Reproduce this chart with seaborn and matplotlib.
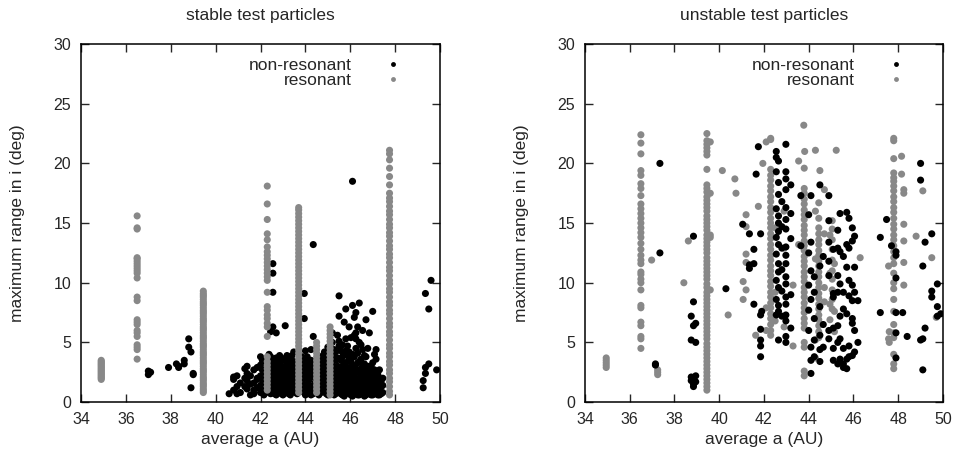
import pandas as pd
import matplotlib
matplotlib.use('Agg')
import matplotlib.pyplot as plt
from matplotlib.lines import Line2D
import seaborn as sns

# ---------------- stable test particles ----------------
# resonant particles: columns at (nearly) fixed average a
stable_res_a = [34.9, 36.5, 39.45, 42.3, 43.7, 44.5, 45.1, 47.75]
stable_res_i = [
    [1.9, 2.0, 2.1, 2.2, 2.3, 2.4, 2.5, 2.6, 2.7, 2.8, 2.9, 3.0, 3.1, 3.2, 3.3, 3.4, 3.5],
    [3.6, 4.4, 4.6, 4.8, 5.5, 5.8, 6.0, 6.5, 6.7, 6.9, 8.5, 8.8, 10.4, 10.8, 11.0, 11.2,
     11.4, 11.6, 11.8, 12.0, 12.1, 14.5, 14.6, 15.6],
    [0.8, 0.95, 1.1, 1.3, 1.45, 1.6, 1.8, 1.95, 2.1, 2.3, 2.5, 2.65, 2.8, 3.0, 3.2, 3.35,
     3.5, 3.7, 3.9, 4.05, 4.2, 4.4, 4.6, 4.75, 4.9, 5.1, 5.3, 5.45, 5.6, 5.8, 6.0, 6.15,
     6.3, 6.5, 6.7, 6.85, 7.0, 7.2, 7.4, 7.55, 7.7, 7.9, 8.1, 8.25, 8.4, 8.6, 8.8, 8.95,
     9.1, 9.3],
    [1.0, 1.3, 1.6, 1.9, 2.2, 2.5, 2.8, 3.1, 3.4, 3.8, 5.5, 6.3, 6.6, 7.0, 7.3, 7.7, 8.0,
     9.2, 10.2, 10.5, 10.8, 11.1, 11.4, 11.7, 12.0, 12.3, 12.6, 13.0, 13.6, 14.1, 15.3,
     16.6, 18.1],
    [0.8, 1.1, 1.4, 1.7, 2.0, 2.3, 2.6, 2.9, 3.2, 3.5, 3.8, 4.1, 4.4, 4.7, 5.0, 5.3, 5.6,
     5.9, 6.2, 6.5, 6.8, 7.1, 7.4, 7.7, 8.0, 8.3, 8.6, 8.9, 9.2, 9.5, 9.8, 10.1, 10.4,
     10.7, 11.0, 11.3, 11.6, 11.9, 12.2, 12.5, 12.8, 13.1, 13.4, 13.7, 14.0, 14.3, 14.6,
     14.9, 15.2, 15.5, 15.8, 16.1, 16.3],
    [0.8, 1.1, 1.4, 1.7, 2.0, 2.3, 2.6, 2.9, 3.2, 3.5, 3.8, 4.1, 4.4, 4.7, 5.0],
    [0.6, 0.9, 1.2, 1.5, 1.8, 2.1, 2.4, 2.7, 3.0, 3.3, 3.6, 3.9, 4.2, 4.5, 4.8, 5.1, 5.4,
     5.7, 6.0, 6.3],
    [0.6, 0.9, 1.3, 1.7, 2.0, 2.4, 2.7, 3.1, 3.4, 3.8, 4.1, 4.5, 4.8, 5.2, 5.6, 5.9, 6.3,
     6.6, 7.0, 7.4, 7.7, 8.1, 8.4, 8.8, 9.2, 9.5, 9.9, 10.2, 10.6, 11.0, 11.3, 11.7, 12.1,
     12.4, 12.8, 13.1, 13.5, 13.9, 14.2, 14.6, 14.9, 15.3, 15.7, 16.0, 16.4, 16.8, 17.1,
     17.5, 18.2, 18.9, 19.6, 20.3, 20.8, 21.1],
]

stable_nonres_a = [37.0, 37.1, 37.9, 38.25, 38.35, 38.6, 38.8, 38.9, 39.0, 40.6, 40.8,
                   40.95, 41.1, 41.3, 41.4, 41.55, 41.7, 41.85, 42.0, 42.15, 42.3, 42.45,
                   42.55, 42.7, 42.85, 43.0, 43.1, 43.25, 43.4, 43.55, 43.85, 43.95, 44.0,
                   44.15, 44.35, 44.7, 44.85, 45.0, 45.2, 45.35, 45.5, 45.65, 45.8, 45.95,
                   46.1, 46.25, 46.4, 46.55, 46.7, 46.85, 47.0, 47.15, 47.3, 47.45, 49.25,
                   49.35, 49.5, 49.6, 49.85]
stable_nonres_i = [
    [2.3, 2.6], [2.5], [2.9], [3.2], [2.9, 3.0], [3.2, 3.5], [5.3, 4.6], [4.2, 1.2],
    [2.4, 2.3], [0.7], [1.0, 2.1, 1.9], [0.7, 1.3, 2.2], [0.8, 1.6], [1.3, 2.8, 2.0],
    [1.1, 1.8, 3.0, 2.4], [0.6, 1.5, 2.2], [0.7, 1.0, 1.6, 2.7], [1.2, 2.0, 2.9, 1.9],
    [0.8, 1.4, 2.2, 3.1, 3.8], [0.6, 1.7, 2.5, 3.4], [1.1, 2.0, 2.8, 3.6],
    [0.7, 1.4, 2.3, 3.0, 3.8, 5.9], [1.0, 1.8, 2.6, 3.3, 6.3, 9.2, 10.8, 11.6],
    [0.6, 1.3, 2.1, 2.9, 3.7, 5.8], [0.9, 1.6, 2.4, 3.2, 3.9], [0.6, 1.2, 2.0, 2.7, 3.5],
    [1.0, 1.7, 2.3, 3.0, 6.4], [0.7, 1.4, 2.1, 2.8, 3.6], [1.1, 1.9, 2.5, 3.3, 3.9],
    [0.8, 1.5, 2.2, 3.0], [0.9, 1.6, 2.4, 3.1, 3.8], [9.1, 7.0],
    [0.6, 1.3, 2.0, 2.7, 3.4, 4.3], [1.0, 1.8, 2.5, 3.2], [0.7, 1.4, 2.2, 2.9, 5.5, 13.2],
    [0.8, 1.5, 2.3, 3.0, 3.7], [1.1, 1.9, 2.6, 3.4, 4.2], [0.6, 1.3, 2.1, 2.8, 4.6],
    [0.9, 1.6, 2.4, 3.1, 5.0, 5.8], [0.7, 1.2, 2.0, 2.7, 3.5, 4.2],
    [1.0, 1.7, 2.5, 4.7, 5.1, 7.2, 8.9], [0.6, 1.3, 2.1, 3.0, 3.8, 4.8],
    [0.9, 1.6, 2.3, 3.3, 4.3, 7.8, 5.3], [0.7, 1.2, 1.9, 2.6, 3.6, 4.2, 6.3],
    [0.5, 1.0, 1.7, 2.4, 3.1, 4.0, 8.1, 18.5], [0.8, 1.4, 2.0, 2.8, 4.5, 5.3, 7.5, 5.8],
    [0.6, 1.1, 1.8, 2.5, 3.4, 5.0, 8.3], [0.9, 1.5, 2.2, 3.0, 6.0, 4.4],
    [0.6, 1.2, 1.9, 2.6, 3.8, 6.9], [0.8, 1.4, 2.1, 2.9, 5.8], [0.6, 1.1, 1.8, 2.4, 3.3, 7.6],
    [0.9, 1.5, 2.2, 3.6, 4.4], [0.6, 1.2, 1.9, 2.7], [0.8, 1.4, 2.0], [1.2, 1.8],
    [2.4, 2.9, 9.1], [3.2, 7.8], [10.2], [2.7],
]
# the dense low-inclination core between 42 and 47.5 AU
stable_core_a = [42.08, 42.38, 42.62, 42.78, 42.93, 43.18, 43.33, 43.48, 43.63, 43.78,
                 44.08, 44.25, 44.45, 44.6, 44.78, 44.93, 45.1, 45.28, 45.43, 45.58,
                 45.73, 45.88, 46.03, 46.18, 46.33, 46.48, 46.63, 46.78, 46.93, 47.08,
                 47.23, 47.38]
stable_core_i = [
    [1.0, 1.9, 2.7, 3.5], [0.8, 1.6, 2.4, 3.2, 4.0], [0.7, 1.5, 2.2, 3.0, 3.6],
    [1.0, 1.8, 2.5, 3.3], [0.7, 1.3, 2.0, 2.9, 3.7], [0.9, 1.6, 2.4, 3.2, 3.9],
    [0.6, 1.4, 2.2, 2.9, 3.5], [1.0, 1.7, 2.6, 3.4, 4.2], [0.7, 1.5, 2.3, 3.1],
    [1.1, 1.9, 2.6, 3.5], [0.8, 1.5, 2.3, 3.0, 3.8], [0.6, 1.3, 2.1, 2.7, 3.5, 4.4],
    [1.0, 1.7, 2.5, 3.2], [0.6, 1.2, 1.9, 2.6, 3.3], [1.0, 1.7, 2.4, 3.2, 3.9],
    [0.7, 1.4, 2.0, 2.9, 3.6], [1.0, 1.8, 2.6, 3.4, 4.0], [0.6, 1.3, 2.0, 2.9, 3.8, 4.4],
    [0.9, 1.5, 2.2, 3.0, 3.7, 5.6], [0.7, 1.4, 2.0, 2.8, 3.5, 4.3], [0.5, 1.1, 1.8, 2.5, 3.3, 4.1, 6.7],
    [0.8, 1.5, 2.1, 2.9, 3.9, 4.7], [0.6, 1.3, 2.0, 2.7, 3.4, 5.4], [0.9, 1.6, 2.2, 3.0, 3.8, 5.6, 7.1],
    [0.6, 1.2, 1.9, 2.6, 3.3, 4.1, 6.3], [0.8, 1.4, 2.1, 2.8, 3.6, 4.8], [0.5, 1.1, 1.7, 2.4, 3.2, 3.9],
    [0.8, 1.5, 2.2, 3.0, 4.5], [0.6, 1.2, 1.9, 2.6, 3.0], [0.8, 1.4, 2.0, 2.7, 4.0],
    [0.6, 1.1, 1.7, 2.3], [0.7, 1.3, 1.8],
]

# ---------------- unstable test particles ----------------
unstable_res_a = [34.95, 36.5, 39.45, 42.3, 43.8, 44.45, 45.05, 47.8]
unstable_res_i = [
    [2.9, 3.1, 3.3, 3.5, 3.7],
    [4.5, 5.3, 5.5, 6.4, 6.7, 7.9, 8.1, 9.4, 10.0, 10.3, 10.7, 10.9, 11.6, 11.9, 12.3, 12.8,
     13.3, 13.8, 14.2, 14.6, 15.0, 15.4, 15.8, 16.2, 16.6, 17.3, 17.9, 18.3, 19.0, 19.4,
     20.8, 21.7, 22.4],
    [1.0, 1.3, 1.6, 1.9, 2.2, 2.5, 2.8, 3.1, 3.4, 3.7, 4.0, 4.3, 4.6, 4.9, 5.3, 5.6, 5.9,
     6.2, 6.5, 6.8, 7.1, 7.4, 7.7, 8.0, 8.3, 8.6, 8.9, 9.2, 9.6, 9.9, 10.3, 10.6, 10.9,
     11.2, 11.5, 11.8, 12.1, 12.5, 12.8, 13.1, 13.4, 13.7, 14.0, 14.4, 14.7, 15.0, 15.3,
     15.6, 16.0, 16.3, 16.6, 16.9, 17.2, 17.6, 17.9, 18.2, 19.5, 20.7, 21.0, 21.3, 21.6,
     21.9, 22.5],
    [5.6, 6.0, 6.5, 7.0, 7.4, 7.9, 8.3, 8.8, 9.2, 9.7, 10.1, 10.6, 11.0, 11.4, 11.9, 12.3,
     12.8, 13.2, 13.7, 14.1, 14.6, 15.0, 15.4, 15.9, 16.3, 16.8, 17.2, 17.7, 18.1, 18.6,
     19.0, 19.5, 22.0, 22.1],
    [2.2, 2.6, 4.6, 5.0, 6.2, 6.6, 7.0, 7.5, 7.9, 8.3, 8.8, 9.2, 9.6, 10.1, 10.5, 10.9,
     11.4, 11.8, 12.2, 12.7, 13.1, 13.5, 14.0, 14.4, 14.8, 15.3, 15.7, 16.1, 16.6, 17.0,
     17.5, 17.9, 19.6],
    [5.4, 5.9, 6.4, 6.9, 7.3, 7.8, 8.2, 8.7, 9.1, 9.6, 10.0, 10.5, 10.9, 11.4, 11.8, 12.3,
     12.7, 13.2, 13.6, 14.1, 14.6, 15.4, 16.7],
    [7.8, 8.6, 9.4, 10.3, 11.0, 11.9, 12.8, 13.6, 14.5, 15.2],
    [2.8, 3.2, 4.0, 5.4, 5.8, 6.5, 7.6, 8.6, 9.5, 10.0, 10.8, 11.6, 12.1, 12.6, 13.1, 13.6,
     14.0, 14.5, 14.9, 15.4, 15.9, 16.3, 16.8, 17.2, 17.7, 18.1, 18.5, 18.8, 19.2, 20.4,
     21.9, 22.1],
]
# resonant particles scattered off the main columns
unstable_res_extra_a = [36.98, 37.25, 38.42, 38.62, 39.6, 40.14, 40.4, 40.7, 40.75, 41.07,
                        41.2, 41.63, 41.75, 41.95, 42.1, 42.5, 42.9, 43.3, 43.55, 43.78,
                        43.82, 44.3, 44.5, 44.7, 44.95, 45.15, 45.23, 46.3, 47.57, 47.6,
                        48.15, 48.25, 48.8, 49.1, 49.5, 49.7]
unstable_res_extra_i = [
    [11.9], [2.3, 2.5, 2.7], [10.0], [13.5], [21.8, 17.5, 9.4, 14.0, 13.8], [19.4], [7.3],
    [18.7], [17.5], [10.1, 8.6], [15.7, 14.7, 12.4, 11.7, 9.4], [5.6], [16.4], [20.0],
    [21.8, 7.9, 6.0], [14.6, 9.2, 6.8], [16.0, 12.9, 6.3], [9.8, 4.7], [20.2, 13.2], [23.2],
    [21.0], [21.1, 16.0, 12.0, 3.7, 5.2], [19.4], [17.8, 14.1, 9.6, 8.4],
    [14.0, 10.8, 8.2, 6.9], [11.6, 7.6, 5.9], [21.1], [12.1], [11.4, 5.3], [5.9, 5.0],
    [20.6, 19.1], [17.8, 17.5, 14.9, 13.5, 11.7, 9.8], [13.9], [17.7], [12.1], [7.1],
]

unstable_nonres_a = [37.15, 37.35, 38.75, 38.85, 38.95, 40.3, 41.05, 41.35, 41.55, 41.65,
                     41.75, 41.85, 41.9, 42.55, 42.65, 42.8, 42.98, 43.2, 43.65, 44.0, 44.1,
                     44.25, 44.5, 44.65, 44.9, 45.1, 45.3, 45.4, 45.55, 45.7, 45.8, 45.95,
                     46.05, 46.2, 47.2, 47.48, 47.7, 47.9, 48.2, 48.4, 49.0, 49.1, 49.2, 49.5,
                     49.75, 49.9]
unstable_nonres_i = [
    [3.2, 3.1], [20.0, 12.5], [7.2, 5.2, 2.1, 1.8], [8.4, 6.4, 13.9, 1.5, 2.0, 1.3],
    [6.6, 5.0, 1.7, 2.2], [9.5], [14.9], [14.1, 11.5, 11.2], [12.8, 11.6, 8.2], [19.1],
    [21.4], [14.1, 6.1, 5.2, 4.7, 3.8, 7.3], [7.6],
    [21.0, 20.5, 19.3, 16.2, 13.8, 12.4, 10.2, 8.6, 7.3],
    [20.2, 18.4, 17.4, 15.6, 15.0, 14.3, 13.2, 11.6, 10.9, 9.6, 8.1, 7.6, 5.2],
    [16.8, 14.7, 12.9, 11.1, 9.3, 7.2],
    [21.6, 19.3, 18.7, 17.8, 16.3, 15.3, 14.5, 13.0, 12.3, 11.6, 10.5, 9.9, 8.8, 8.2, 7.3,
     6.8, 5.5, 5.0],
    [18.2, 15.8, 13.7, 9.0, 6.2], [17.3, 13.1], [15.7, 12.5, 9.8, 7.7, 6.0],
    [17.3, 13.4, 11.0, 8.6, 4.6, 3.5, 2.4], [10.5, 9.2, 7.0, 5.2, 3.8],
    [18.2, 11.4, 8.0, 5.6, 4.4, 3.4], [12.2, 6.5, 4.6],
    [17.3, 15.2, 13.4, 11.8, 10.6, 6.0, 5.3], [12.8, 9.1, 8.8, 6.2, 4.5, 3.5],
    [14.4, 12.9, 10.6, 9.2, 6.4, 5.0, 3.2], [15.8, 12.6, 9.9, 7.2, 5.3, 3.6],
    [12.2, 9.2, 7.8, 4.5, 3.2, 2.9], [15.9, 13.2, 11.3, 7.4, 3.6, 2.8],
    [15.4, 12.9, 10.2, 8.9, 4.7, 3.8], [14.6, 13.5, 9.8, 8.5, 7.0, 6.6, 3.9],
    [13.9, 11.3, 9.2, 6.0, 4.2], [8.5, 5.0], [13.8, 7.5], [15.3], [13.1],
    [12.6, 12.3, 10.4, 7.5, 5.8, 3.7], [7.5], [5.5], [20.0, 18.6, 5.2], [11.4, 5.3, 2.7],
    [13.4, 6.2], [14.1, 8.8, 9.3], [9.9, 8.0, 7.2], [7.4],
]

COLORS = {'non-resonant': 'black', 'resonant': '#888888'}


def to_frame(a_vals, i_lists, kind):
    rows = [(a, i, kind) for a, il in zip(a_vals, i_lists) for i in il]
    return pd.DataFrame(rows, columns=['a', 'i', 'kind'])


stable = pd.concat([to_frame(stable_nonres_a, stable_nonres_i, 'non-resonant'),
                    to_frame(stable_core_a, stable_core_i, 'non-resonant'),
                    to_frame(stable_res_a, stable_res_i, 'resonant')], ignore_index=True)
unstable = pd.concat([to_frame(unstable_res_a, unstable_res_i, 'resonant'),
                      to_frame(unstable_res_extra_a, unstable_res_extra_i, 'resonant'),
                      to_frame(unstable_nonres_a, unstable_nonres_i, 'non-resonant')],
                     ignore_index=True)

sns.set_style('ticks')
plt.rcParams['font.family'] = ['Liberation Sans', 'DejaVu Sans']
plt.rcParams['font.size'] = 12

FS = 12.5

fig = plt.figure(figsize=(9.58, 4.59), dpi=100)
axes = [fig.add_axes([0.0846, 0.124, 0.3747, 0.780]),
        fig.add_axes([0.6106, 0.124, 0.3737, 0.780])]
titles = ['stable test particles', 'unstable test particles']

for ax, df, title in zip(axes, [stable, unstable], titles):
    sns.scatterplot(data=df, x='a', y='i', hue='kind', palette=COLORS, s=26,
                    linewidth=0, ax=ax, legend=False)
    ax.set_xlim(34, 50)
    ax.set_ylim(0, 30)
    ax.set_xticks(range(34, 51, 2))
    ax.set_yticks(range(0, 31, 5))
    ax.tick_params(direction='in', top=True, right=True, length=6, width=1,
                   labelsize=11.5, pad=7)
    for sp in ax.spines.values():
        sp.set_visible(True)
        sp.set_linewidth(1.1)
        sp.set_color('black')
    ax.set_xlabel('average a (AU)', fontsize=FS)
    ax.set_ylabel('maximum range in i (deg)', fontsize=FS)
    ax.xaxis.set_label_coords(0.5, -0.083)
    ax.yaxis.set_label_coords(-0.155, 0.5)
    ax.text(0.5, 1.08, title, transform=ax.transAxes, ha='center', va='center',
            fontsize=FS)

    handles = [Line2D([], [], marker='o', ls='', color=COLORS[k], markersize=3.5,
                      markeredgewidth=0) for k in ['non-resonant', 'resonant']]
    ax.legend(handles, ['non-resonant', 'resonant'], loc='upper right',
              bbox_to_anchor=(0.894, 0.962), frameon=False, markerfirst=False,
              handlelength=1.0, handletextpad=1.9, labelspacing=0.0,
              fontsize=FS, borderaxespad=0, borderpad=0)

fig.savefig('out.png', dpi=100)
